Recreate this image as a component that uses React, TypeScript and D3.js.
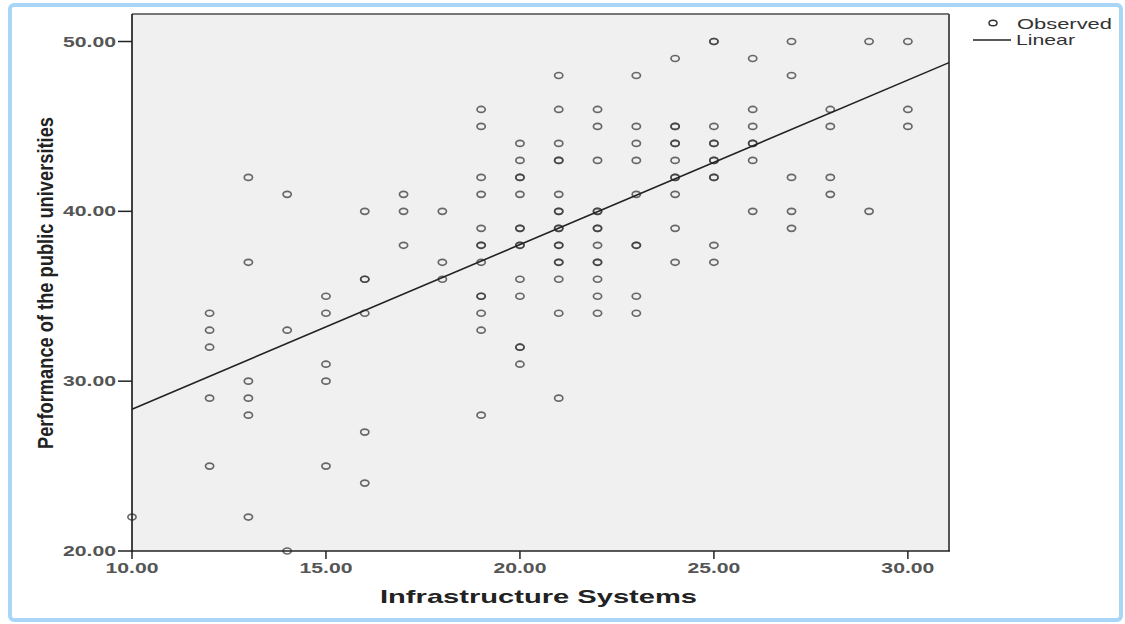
import React from "react";
import * as d3 from "d3";

// Observed cases: infrastructure score (x) and performance score (y)
const infrastructure: number[] = [
  10,
  12, 12, 12, 12, 12,
  13, 13, 13, 13, 13, 13,
  14, 14, 14,
  15, 15, 15, 15, 15,
  16, 16, 16, 16, 16, 16,
  17, 17, 17,
  18, 18, 18,
  19, 19, 19, 19, 19, 19, 19, 19, 19, 19, 19, 19, 19,
  20, 20, 20, 20, 20, 20, 20, 20, 20, 20, 20, 20, 20, 20,
  21, 21, 21, 21, 21, 21, 21, 21, 21, 21, 21, 21, 21, 21, 21, 21, 21,
  22, 22, 22, 22, 22, 22, 22, 22, 22, 22, 22, 22, 22,
  23, 23, 23, 23, 23, 23, 23, 23, 23,
  24, 24, 24, 24, 24, 24, 24, 24, 24, 24, 24,
  25, 25, 25, 25, 25, 25, 25, 25, 25, 25, 25,
  26, 26, 26, 26, 26, 26, 26,
  27, 27, 27, 27, 27,
  28, 28, 28, 28,
  29, 29,
  30, 30, 30,
];

const performance: number[] = [
  22,
  34, 33, 32, 29, 25,
  42, 37, 30, 29, 28, 22,
  41, 33, 20,
  35, 34, 31, 30, 25,
  40, 36, 36, 34, 27, 24,
  41, 40, 38,
  40, 37, 36,
  46, 45, 42, 41, 39, 38, 38, 37, 35, 35, 34, 33, 28,
  44, 43, 42, 42, 41, 39, 39, 38, 38, 36, 35, 32, 32, 31,
  48, 46, 44, 43, 43, 41, 40, 40, 39, 39, 38, 38, 37, 37, 36, 34, 29,
  46, 45, 43, 40, 40, 39, 39, 38, 37, 37, 36, 35, 34,
  48, 45, 44, 43, 41, 38, 38, 35, 34,
  49, 45, 45, 44, 44, 43, 42, 42, 41, 39, 37,
  50, 50, 45, 44, 44, 43, 43, 42, 42, 38, 37,
  49, 46, 45, 44, 44, 43, 40,
  50, 48, 42, 40, 39,
  46, 45, 42, 41,
  50, 40,
  50, 46, 45,
];

// Fitted linear model: performance = intercept + slope * infrastructure
const fitIntercept = 18.66;
const fitSlope = 0.969;

const xTicks: number[] = [10, 15, 20, 25, 30];
const yTicks: number[] = [20, 30, 40, 50];

const xDomain: [number, number] = [10, 31.06];
const yDomain: [number, number] = [20, 51.62];

const xTitle = "Infrastructure Systems";
const yTitle = "Performance of the public universities";
const legendLabels: string[] = ["Observed", "Linear"];

export default function App() {
  const W = 1125;
  const H = 624;
  const left = 132;
  const right = 949;
  const top = 14;
  const bottom = 551;

  const x = d3.scaleLinear().domain(xDomain).range([left, right]);
  const y = d3.scaleLinear().domain(yDomain).range([bottom, top]);

  const fitLine = d3
    .line<number>()
    .x((d) => x(d))
    .y((d) => y(fitIntercept + fitSlope * d))(xDomain) as string;

  const fmt = d3.format(".2f");
  const labelFont = "'Liberation Sans', Arial, sans-serif";

  return (
    <svg
      width={W}
      height={H}
      style={{ position: "absolute", left: 0, top: 0, background: "#fff" }}
    >
      {/* outer frame */}
      <rect
        x={10}
        y={5}
        width={1111}
        height={615}
        rx={4}
        fill="#fff"
        stroke="#a9d5f7"
        strokeWidth={4}
      />

      {/* plot area */}
      <rect x={left} y={top} width={right - left} height={bottom - top} fill="#f0f0f0" />
      <line x1={left} x2={right} y1={top} y2={top} stroke="#777" strokeWidth={2} />
      <line x1={right} x2={right} y1={top} y2={bottom} stroke="#555" strokeWidth={2} />

      {/* observed points */}
      <g>
        {infrastructure.map((xv, i) => (
          <ellipse
            key={i}
            cx={x(xv)}
            cy={y(performance[i])}
            rx={4.1}
            ry={3}
            fill="none"
            stroke="#3a3a3a"
            strokeOpacity={0.75}
            strokeWidth={1.7}
          />
        ))}
      </g>

      {/* linear fit */}
      <path d={fitLine} fill="none" stroke="#222" strokeWidth={1.6} />

      {/* axes */}
      <line x1={left} x2={left} y1={top} y2={bottom + 1} stroke="#222" strokeWidth={1.7} />
      <line x1={left} x2={right + 1} y1={bottom} y2={bottom} stroke="#222" strokeWidth={1.7} />

      {yTicks.map((t) => (
        <g key={"y" + t}>
          <line x1={left - 14} x2={left} y1={y(t)} y2={y(t)} stroke="#222" strokeWidth={1.5} />
          <text
            x={116}
            y={y(t)}
            dy="0.36em"
            textAnchor="end"
            fontFamily={labelFont}
            fontWeight="bold"
            fontSize={14}
            fill="#555"
            textLength={53}
            lengthAdjust="spacingAndGlyphs"
          >
            {fmt(t)}
          </text>
        </g>
      ))}

      {xTicks.map((t) => (
        <g key={"x" + t}>
          <line x1={x(t)} x2={x(t)} y1={bottom} y2={bottom + 8} stroke="#222" strokeWidth={1.5} />
          <text
            x={x(t) - 26.5}
            y={573}
            fontFamily={labelFont}
            fontWeight="bold"
            fontSize={14}
            fill="#555"
            textLength={53}
            lengthAdjust="spacingAndGlyphs"
          >
            {fmt(t)}
          </text>
        </g>
      ))}

      {/* axis titles */}
      <text
        x={380}
        y={603}
        fontFamily={labelFont}
        fontWeight="bold"
        fontSize={19}
        fill="#222"
        textLength={317}
        lengthAdjust="spacingAndGlyphs"
      >
        {xTitle}
      </text>
      <text
        transform="translate(53,449) rotate(-90)"
        fontFamily={labelFont}
        fontWeight="bold"
        fontSize={22}
        fill="#222"
        textLength={332}
        lengthAdjust="spacingAndGlyphs"
      >
        {yTitle}
      </text>

      {/* legend */}
      <ellipse cx={993} cy={23} rx={4} ry={2.8} fill="none" stroke="#333" strokeWidth={1.5} />
      <text
        x={1017}
        y={29}
        fontFamily={labelFont}
        fontSize={15}
        fill="#333"
        textLength={95}
        lengthAdjust="spacingAndGlyphs"
      >
        {legendLabels[0]}
      </text>
      <line x1={973} x2={1011} y1={40} y2={40} stroke="#222" strokeWidth={1.5} />
      <text
        x={1016}
        y={45}
        fontFamily={labelFont}
        fontSize={15}
        fill="#333"
        textLength={59}
        lengthAdjust="spacingAndGlyphs"
      >
        {legendLabels[1]}
      </text>
    </svg>
  );
}
